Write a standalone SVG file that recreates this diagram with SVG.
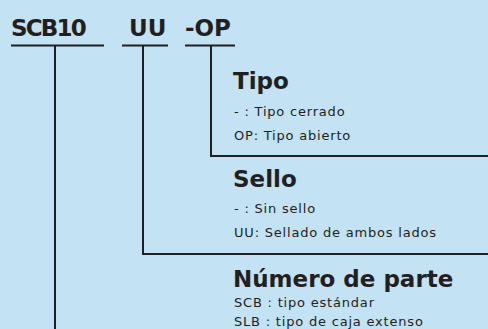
<svg xmlns="http://www.w3.org/2000/svg" width="488" height="329" viewBox="0 0 488 329">
<style>
.code,.head{font-family:"DejaVu Sans",Lato,sans-serif;font-weight:bold;font-size:23px;fill:#231f20}
.sub{font-family:"DejaVu Sans",Lato,sans-serif;font-size:13px;letter-spacing:0.8px;fill:#231f20}
.ln{stroke:#231f20;stroke-width:2;fill:none}
</style>
<rect width="488" height="329" fill="#c3e2f4"/>
<g id="code-scb10"><text class="code" x="11" y="36" style="letter-spacing:-1.8px">SCB10</text></g>
<g id="code-uu"><text class="code" x="129" y="36">UU</text></g>
<g id="code-op"><text class="code" x="185" y="36">-OP</text></g>
<g id="connectors">
<line class="ln" x1="11" y1="45.5" x2="104" y2="45.5"/>
<line class="ln" x1="122" y1="45.5" x2="168" y2="45.5"/>
<line class="ln" x1="185" y1="45.5" x2="235" y2="45.5"/>
<polyline class="ln" points="211,45.5 211,156 488,156"/>
<polyline class="ln" points="143,45.5 143,254 488,254"/>
<line class="ln" x1="55" y1="45.5" x2="55" y2="329"/>
</g>
<g id="tipo">
<text class="head" x="233" y="89">Tipo</text>
<text class="sub" x="234" y="116">- : Tipo cerrado</text>
<text class="sub" x="234" y="140">OP: Tipo abierto</text>
</g>
<g id="sello">
<text class="head" x="233" y="187">Sello</text>
<text class="sub" x="234" y="213">- : Sin sello</text>
<text class="sub" x="234" y="237">UU: Sellado de ambos lados</text>
</g>
<g id="numero">
<text class="head" x="233" y="287">Número de parte</text>
<text class="sub" x="234" y="307">SCB : tipo estándar</text>
<text class="sub" x="234" y="326">SLB : tipo de caja extenso</text>
</g>
</svg>
